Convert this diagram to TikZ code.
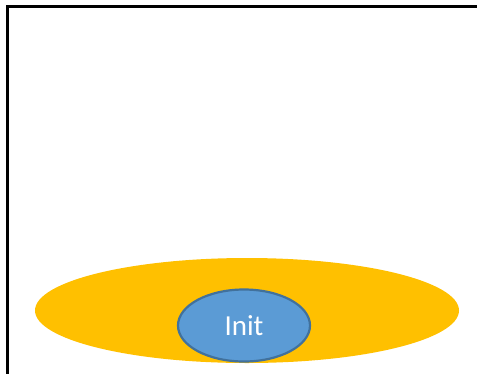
\documentclass[tikz,border=0pt]{standalone}
\usepackage{fontspec}
\setmainfont{Carlito}
\usetikzlibrary{shapes.geometric}

\definecolor{ringfill}{HTML}{FFC000}
\definecolor{initfill}{HTML}{5B9BD5}
\definecolor{initline}{HTML}{41719C}

\begin{document}
\begin{tikzpicture}[x=1pt,y=-1pt]
        \useasboundingbox (0,0) rectangle (477,373);
        \clip (0,0) rectangle (477,373);
        \draw [line width=3pt] (7,6.5) rectangle (500,400);
        \node (ring) [ellipse, fill=ringfill, inner sep=0pt,
            minimum width=424pt, minimum height=105pt] at (247,310.5) {};
        \node (init) [ellipse, fill=initfill, draw=initline, line width=2.2pt,
            inner sep=0pt, minimum width=132pt, minimum height=72pt,
            text=white, font=\fontsize{29}{35}\selectfont] at (244,325.5) {Init};
    \end{tikzpicture}
\end{document}
